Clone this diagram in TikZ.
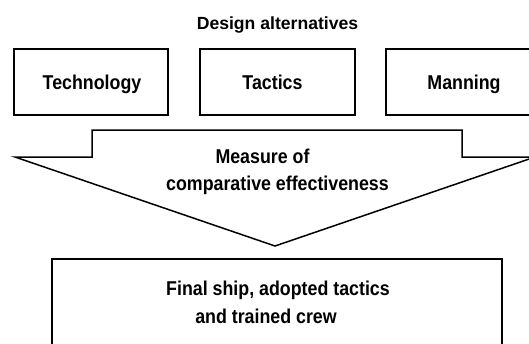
\documentclass[tikz,border=0pt]{standalone}
\usepackage{fontspec}
\setmainfont{Liberation Sans}
\newfontfamily\lblfont[FakeStretch=0.89]{Liberation Sans}
\begin{document}
\begin{tikzpicture}[x=1pt,y=-1pt,
  lbl/.style={font=\lblfont\bfseries\fontsize{20}{22}\selectfont, inner sep=0pt, anchor=base},
  ttl/.style={font=\bfseries\fontsize{17.6}{20}\selectfont, inner sep=0pt, anchor=base},
  altbox/.style={draw, line width=1.5pt, minimum height=66pt, inner sep=0pt},
  shape line/.style={line width=1.5pt, line join=miter}]
\useasboundingbox (0,0) rectangle (529,343);
\clip (0,0) rectangle (529,343);
\node[ttl] (title) at (277.5,29) {Design alternatives};
\node[altbox, minimum width=154pt] (tech) at (91,82) {};
\node[altbox, minimum width=155pt] (tact) at (277.5,82) {};
\node[altbox, minimum width=155pt] (man) at (463.5,82) {};
\node[lbl] (techl) at (92,89) {Technology};
\node[lbl] (tactl) at (272.5,89) {Tactics};
\node[lbl] (manl) at (464,89) {Manning};
\draw[shape line] (15,157) -- (92,157) -- (92,130) -- (462,130) -- (462,157) -- (535,157) -- (275,246) -- cycle;
\node[lbl] (m1) at (262.5,163) {Measure of};
\node[lbl] (m2) at (277.5,190) {comparative effectiveness};
\draw[shape line] (52,350) -- (52,259) -- (502,259) -- (502,350);
\node[lbl] (f1) at (278,295) {Final ship, adopted tactics};
\node[lbl] (f2) at (266,323) {and trained crew};
\end{tikzpicture}
\end{document}
